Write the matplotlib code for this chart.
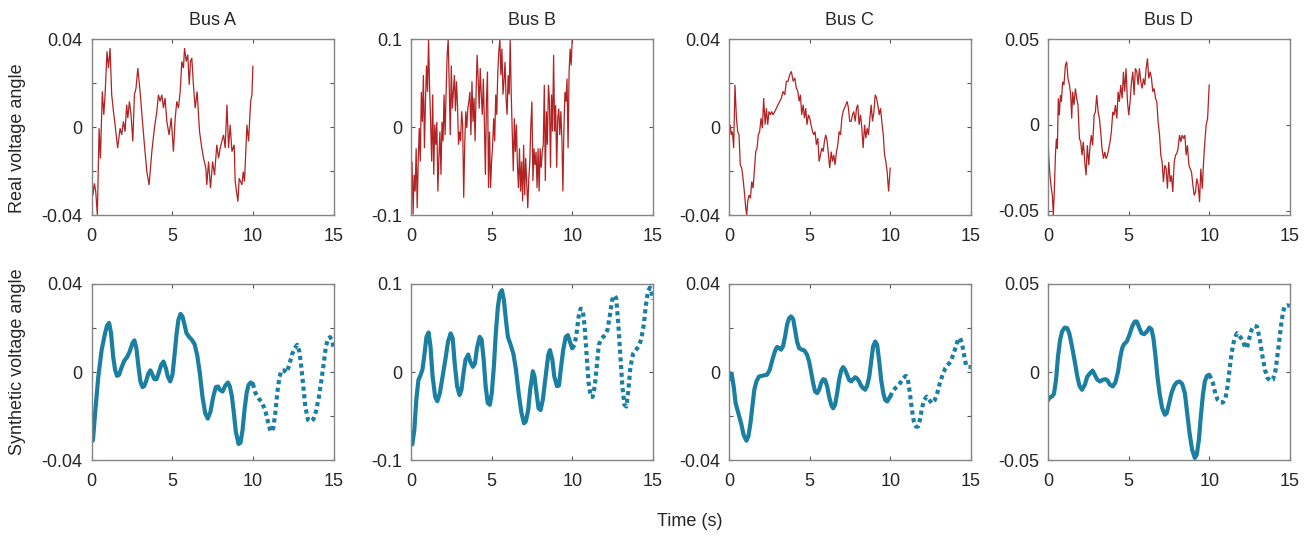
import numpy as np
import matplotlib
matplotlib.use('Agg')
import matplotlib.pyplot as plt

plt.rcParams['font.family'] = ['Liberation Sans', 'DejaVu Sans']

# ---------------- data ----------------
buses = ['Bus A', 'Bus B', 'Bus C', 'Bus D']
x_ticks = [0, 5, 10, 15]
split_time = 10.0

# Real voltage angle (measured), 0-10 s
A_real_t = [0.00,0.08,0.17,0.25,0.35,0.46,0.54,0.66,0.75,0.83,0.95,1.04,1.14,1.24,1.35,1.45,1.61,1.76,1.86,1.97,
            2.07,2.17,2.24,2.34,2.44,2.55,2.65,2.75,2.86,3.00,3.15,3.27,3.42,3.56,3.73,3.89,4.04,4.14,4.24,4.35,
            4.45,4.55,4.66,4.80,4.93,5.07,5.18,5.28,5.38,5.49,5.59,5.69,5.76,5.86,5.96,6.05,6.13,6.21,6.31,6.42,
            6.54,6.69,6.83,6.94,7.08,7.14,7.25,7.37,7.50,7.62,7.76,7.87,7.97,8.07,8.18,8.28,8.39,8.49,8.59,8.70,
            8.84,8.90,9.07,9.15,9.32,9.40,9.48,9.63,9.73,9.86,9.94,10.00]
A_real_v = [-0.0202,-0.0308,-0.0255,-0.0292,-0.0398,-0.0005,-0.0141,0.0162,0.0056,0.0147,0.0344,0.0268,0.0359,0.0147,0.0071,
            0.0011,-0.0095,-0.0005,-0.0035,0.0026,-0.0020,0.0102,0.0041,0.0117,0.0056,-0.0065,0.0147,0.0177,0.0268,0.0162,
            0.0026,-0.0080,-0.0202,-0.0262,-0.0111,-0.0005,0.0071,0.0147,0.0117,0.0147,0.0086,0.0132,0.0026,-0.0035,0.0041,
            -0.0111,0.0041,0.0117,0.0086,0.0162,0.0298,0.0268,0.0359,0.0298,0.0329,0.0192,0.0298,0.0314,0.0192,0.0086,
            0.0162,-0.0020,-0.0095,-0.0141,-0.0186,-0.0262,-0.0156,-0.0277,-0.0156,-0.0217,-0.0080,-0.0141,-0.0095,-0.0065,-0.0035,
            -0.0095,0.0102,-0.0095,0.0011,-0.0111,-0.0080,-0.0247,-0.0338,-0.0232,-0.0262,-0.0202,-0.0247,0.0011,-0.0065,0.0117,
            0.0147,0.0276]

B_real_v = [-0.080,-0.039,-0.099,-0.054,-0.073,-0.024,-0.092,-0.039,-0.001,-0.039,0.040,0.006,0.059,-0.024,0.029,0.070,
            0.040,0.100,0.044,0.006,-0.039,0.037,-0.054,0.003,-0.020,0.006,-0.073,-0.035,-0.005,-0.054,0.006,-0.016,
            0.037,-0.009,0.040,0.082,0.100,0.044,-0.009,0.070,0.021,0.040,0.059,0.018,0.052,0.025,-0.020,-0.005,
            -0.016,0.018,0.003,-0.080,-0.020,0.018,-0.001,0.021,0.029,0.040,-0.009,0.052,0.006,0.033,-0.016,0.040,
            0.082,0.055,0.021,0.067,0.037,0.014,0.055,0.006,-0.054,0.029,0.063,-0.069,-0.005,-0.069,-0.039,-0.020,
            0.010,-0.016,0.037,0.014,0.063,0.086,0.100,0.059,0.089,0.037,0.052,0.074,0.033,0.014,0.059,0.037,
            0.100,0.037,-0.005,-0.050,0.010,-0.028,0.003,-0.043,-0.069,-0.024,-0.073,-0.039,-0.084,-0.020,-0.077,-0.035,
            -0.065,-0.092,-0.058,-0.039,0.003,0.029,-0.061,-0.024,-0.043,-0.028,-0.069,-0.024,-0.073,-0.024,-0.046,-0.028,
            -0.020,0.048,-0.061,0.018,-0.020,0.048,0.029,-0.046,0.037,-0.005,0.082,-0.005,0.025,-0.046,0.010,0.021,
            -0.009,0.018,-0.012,-0.073,-0.001,0.040,0.029,0.055,-0.024,0.063,0.089,0.070,0.100]
B_real_t = np.linspace(0, 10, len(B_real_v))

C_real_t = [0.00,0.08,0.14,0.21,0.29,0.37,0.46,0.54,0.62,0.70,0.79,0.87,0.95,1.04,1.10,1.16,1.24,1.33,1.41,1.49,
            1.57,1.66,1.74,1.82,1.90,1.99,2.07,2.15,2.24,2.32,2.40,2.48,2.57,2.65,2.73,2.84,2.94,3.04,3.15,3.25,
            3.35,3.46,3.56,3.66,3.77,3.87,3.98,4.08,4.18,4.27,4.35,4.43,4.51,4.60,4.68,4.76,4.84,4.93,5.01,5.09,
            5.18,5.26,5.34,5.42,5.51,5.59,5.67,5.76,5.84,5.92,6.00,6.09,6.17,6.25,6.34,6.42,6.50,6.58,6.67,6.75,
            6.83,6.92,7.00,7.08,7.16,7.25,7.33,7.41,7.49,7.58,7.66,7.74,7.83,7.91,7.99,8.07,8.16,8.24,8.32,8.41,
            8.49,8.57,8.65,8.74,8.82,8.90,8.99,9.07,9.15,9.23,9.32,9.40,9.48,9.57,9.65,9.73,9.81,9.90,10.00]
C_real_v = [-0.0050,0.0011,-0.0035,-0.0020,-0.0095,0.0192,0.0041,-0.0020,-0.0035,-0.0171,
            -0.0186,-0.0232,-0.0292,-0.0368,-0.0398,-0.0338,-0.0308,-0.0323,-0.0247,-0.0277,
            -0.0201,-0.0111,-0.0095,-0.0035,-0.0020,0.0041,-0.0005,0.0132,0.0011,0.0086,
            0.0011,0.0071,0.0056,0.0071,0.0056,0.0071,0.0086,0.0102,0.0117,0.0132,
            0.0162,0.0147,0.0208,0.0208,0.0238,0.0253,0.0208,0.0223,0.0177,0.0162,
            0.0117,0.0147,0.0056,0.0102,0.0041,0.0086,0.0011,0.0056,0.0041,0.0011,
            -0.0020,-0.0035,-0.0020,-0.0080,-0.0050,-0.0156,-0.0126,-0.0095,-0.0111,-0.0065,
            -0.0035,-0.0065,-0.0126,-0.0186,-0.0111,-0.0156,-0.0126,-0.0171,-0.0111,-0.0080,
            -0.0020,-0.0035,0.0041,0.0071,0.0086,0.0102,0.0117,0.0086,0.0026,0.0026,
            0.0056,0.0071,0.0026,0.0086,0.0102,0.0011,0.0056,-0.0005,-0.0095,0.0011,
            -0.0050,-0.0005,-0.0035,0.0041,0.0102,0.0026,0.0071,0.0147,0.0132,0.0102,
            0.0056,0.0086,0.0026,-0.0035,-0.0126,-0.0156,-0.0201,-0.0292,-0.0186]

D_real_t = [0.00,0.04,0.12,0.21,0.27,0.33,0.39,0.46,0.52,0.58,0.64,0.70,0.77,0.83,0.91,0.99,1.08,1.16,1.24,1.33,
            1.41,1.47,1.53,1.61,1.70,1.78,1.86,1.95,2.03,2.11,2.19,2.28,2.36,2.44,2.53,2.61,2.69,2.77,2.86,2.94,
            3.02,3.11,3.19,3.27,3.35,3.44,3.52,3.60,3.69,3.77,3.85,3.93,4.02,4.10,4.18,4.27,4.35,4.43,4.51,4.60,
            4.68,4.76,4.84,4.93,5.01,5.09,5.18,5.26,5.34,5.42,5.51,5.59,5.67,5.76,5.84,5.92,6.00,6.09,6.17,6.25,
            6.34,6.42,6.50,6.58,6.67,6.75,6.83,6.92,7.00,7.08,7.16,7.25,7.33,7.41,7.49,7.58,7.66,7.74,7.83,7.91,
            7.99,8.07,8.16,8.24,8.32,8.41,8.49,8.57,8.65,8.74,8.82,8.90,8.99,9.07,9.15,9.23,9.32,9.40,9.48,9.57,
            9.65,9.73,9.81,9.90,10.00]
D_real_v = [-0.0060,-0.0177,-0.0294,-0.0372,-0.0411,-0.0527,-0.0391,-0.0177,-0.0080,-0.0138,
            0.0154,0.0056,0.0173,0.0134,0.0251,0.0232,0.0348,0.0368,0.0270,0.0232,
            0.0173,0.0037,0.0193,0.0115,0.0212,0.0154,0.0115,-0.0080,-0.0099,-0.0177,
            -0.0099,-0.0216,-0.0294,-0.0119,-0.0235,-0.0119,-0.0060,-0.0119,0.0056,0.0076,
            0.0173,0.0076,0.0037,-0.0041,-0.0138,-0.0197,-0.0158,-0.0197,-0.0177,-0.0138,
            -0.0099,-0.0041,0.0076,0.0056,0.0115,0.0037,0.0193,0.0134,0.0232,0.0154,
            0.0309,0.0193,0.0329,0.0134,0.0056,0.0134,0.0251,0.0309,0.0173,0.0329,
            0.0309,0.0232,0.0329,0.0251,0.0212,0.0270,0.0232,0.0329,0.0387,0.0270,
            0.0309,0.0270,0.0193,0.0212,0.0154,0.0134,0.0018,-0.0060,-0.0177,-0.0216,
            -0.0333,-0.0235,-0.0255,-0.0372,-0.0216,-0.0333,-0.0294,-0.0391,-0.0216,-0.0177,
            -0.0167,-0.0138,-0.0060,-0.0099,-0.0060,-0.0080,-0.0060,-0.0177,-0.0119,-0.0235,
            -0.0255,-0.0274,-0.0352,-0.0411,-0.0391,-0.0313,-0.0352,-0.0450,-0.0255,-0.0372,
            -0.0216,-0.0099,-0.0002,0.0037,0.0232]

# Synthetic voltage angle, 0-15 s (solid up to 10 s, dotted afterwards)
A_syn_t = [0.00,0.08,0.21,0.41,0.62,0.83,0.95,1.08,1.20,1.33,1.45,1.57,1.70,1.86,2.03,2.19,2.36,2.53,2.65,2.77,
           2.90,3.02,3.15,3.27,3.40,3.52,3.64,3.77,3.89,4.02,4.14,4.31,4.45,4.60,4.72,4.87,5.01,5.13,5.26,5.38,
           5.51,5.63,5.76,5.88,6.05,6.21,6.38,6.54,6.71,6.87,7.04,7.20,7.37,7.54,7.70,7.83,7.95,8.12,8.28,8.45,
           8.57,8.70,8.82,8.94,9.11,9.23,9.36,9.48,9.61,9.73,9.86,10.00,
           10.14,10.35,10.56,10.77,10.93,11.10,11.26,11.39,11.51,11.64,11.76,11.93,12.09,12.26,12.42,12.59,12.75,12.88,
           13.00,13.13,13.25,13.42,13.58,13.75,13.91,14.08,14.24,14.41,14.53,14.66,14.78,14.91,15.00]
A_syn_v = [-0.0315,-0.0308,-0.0186,-0.0020,0.0102,0.0177,0.0211,0.0223,0.0177,0.0071,0.0011,-0.0017,-0.0012,0.0023,0.0053,
           0.0067,0.0094,0.0132,0.0144,0.0109,0.0026,-0.0042,-0.0068,-0.0062,-0.0035,-0.0005,0.0008,-0.0012,-0.0032,-0.0032,
           -0.0008,0.0033,0.0048,0.0018,-0.0020,-0.0042,-0.0012,0.0071,0.0170,0.0238,0.0264,0.0253,0.0215,0.0177,0.0159,
           0.0147,0.0127,0.0079,-0.0005,-0.0111,-0.0186,-0.0211,-0.0179,-0.0111,-0.0068,-0.0065,-0.0080,-0.0088,-0.0062,-0.0047,
           -0.0065,-0.0111,-0.0186,-0.0270,-0.0326,-0.0320,-0.0262,-0.0171,-0.0095,-0.0058,-0.0047,-0.0053,
           -0.0092,-0.0118,-0.0138,-0.0174,-0.0224,-0.0270,-0.0255,-0.0186,-0.0095,-0.0027,0.0008,0.0008,-0.0002,0.0033,
           0.0079,0.0109,0.0124,0.0094,0.0026,-0.0065,-0.0156,-0.0217,-0.0224,-0.0214,-0.0179,-0.0118,-0.0042,0.0048,
           0.0117,0.0150,0.0159,0.0147,0.0109]

B_syn_t = [0.00,0.08,0.21,0.33,0.46,0.58,0.71,0.84,0.96,1.09,1.21,1.34,1.50,1.63,1.79,1.96,2.13,2.30,2.46,2.59,
           2.71,2.86,3.01,3.13,3.26,3.38,3.55,3.67,3.84,3.97,4.09,4.26,4.38,4.51,4.63,4.76,4.89,5.01,5.14,5.26,
           5.39,5.51,5.64,5.76,5.89,6.01,6.18,6.35,6.51,6.68,6.85,7.01,7.12,7.27,7.39,7.56,7.66,7.79,7.91,8.04,
           8.18,8.35,8.52,8.62,8.77,8.89,9.06,9.18,9.29,9.44,9.60,9.73,9.85,10.00,
           10.15,10.27,10.40,10.52,10.65,10.77,10.90,11.02,11.15,11.27,11.40,11.52,11.65,11.82,12.03,12.19,12.36,12.48,
           12.61,12.73,12.86,12.99,13.11,13.24,13.36,13.49,13.61,13.78,13.95,14.11,14.28,14.45,14.57,14.70,14.82,14.95,15.00]
B_syn_v = [-0.078,-0.082,-0.065,-0.031,-0.009,-0.004,0.003,0.021,0.040,0.045,0.029,-0.005,-0.028,-0.033,-0.024,
           -0.005,0.014,0.035,0.044,0.038,0.010,-0.016,-0.026,-0.020,-0.001,0.014,0.020,0.012,0.006,0.010,
           0.027,0.040,0.037,0.014,-0.016,-0.035,-0.037,-0.024,0.006,0.044,0.074,0.089,0.093,0.082,0.059,
           0.040,0.031,0.021,0.003,-0.024,-0.046,-0.058,-0.056,-0.043,-0.020,0.001,-0.005,-0.024,-0.041,-0.043,
           -0.031,-0.005,0.020,0.025,0.014,-0.005,-0.016,-0.015,0.003,0.025,0.040,0.042,0.035,0.027,
           0.031,0.044,0.063,0.072,0.071,0.052,0.018,-0.012,-0.028,-0.028,-0.016,0.006,0.031,0.038,0.042,
           0.048,0.067,0.082,0.087,0.084,0.055,0.018,-0.016,-0.037,-0.039,-0.020,0.006,0.021,0.025,0.029,
           0.037,0.055,0.076,0.091,0.096,0.089,0.082]

C_syn_t = [0.00,0.08,0.17,0.29,0.41,0.58,0.75,0.91,1.08,1.20,1.33,1.45,1.57,1.70,1.86,2.03,2.19,2.36,2.53,2.69,
           2.86,2.98,3.11,3.23,3.35,3.48,3.60,3.73,3.85,3.98,4.10,4.22,4.35,4.51,4.68,4.84,4.97,5.09,5.22,5.34,
           5.47,5.59,5.71,5.84,5.96,6.09,6.21,6.34,6.46,6.58,6.71,6.83,6.96,7.08,7.20,7.33,7.45,7.58,7.70,7.83,
           7.95,8.07,8.20,8.32,8.45,8.57,8.70,8.82,8.94,9.07,9.19,9.32,9.44,9.57,9.69,9.81,10.00,
           10.14,10.31,10.48,10.64,10.81,10.97,11.10,11.22,11.35,11.47,11.60,11.72,11.84,11.97,12.09,12.26,12.42,
           12.59,12.75,12.92,13.08,13.25,13.42,13.58,13.75,13.91,14.08,14.20,14.33,14.45,14.58,14.70,14.82,15.00]
C_syn_v = [-0.0035,-0.0005,-0.0009,-0.0065,-0.0141,-0.0186,-0.0232,-0.0285,-0.0311,-0.0292,-0.0232,-0.0156,-0.0080,-0.0042,-0.0020,
           -0.0017,-0.0014,-0.0012,0.0011,0.0056,0.0097,0.0114,0.0109,0.0102,0.0117,0.0162,0.0215,0.0245,0.0253,0.0241,
           0.0192,0.0139,0.0109,0.0102,0.0098,0.0079,0.0048,0.0003,-0.0050,-0.0088,-0.0095,-0.0080,-0.0050,-0.0032,-0.0035,
           -0.0065,-0.0111,-0.0148,-0.0164,-0.0148,-0.0095,-0.0035,0.0008,0.0023,0.0011,-0.0012,-0.0035,-0.0042,-0.0032,-0.0023,
           -0.0029,-0.0042,-0.0062,-0.0073,-0.0080,-0.0062,-0.0020,0.0048,0.0117,0.0139,0.0124,0.0048,-0.0035,-0.0095,-0.0126,
           -0.0133,-0.0111,
           -0.0088,-0.0073,-0.0062,-0.0047,-0.0027,-0.0017,-0.0035,-0.0095,-0.0171,-0.0224,-0.0247,-0.0247,-0.0217,-0.0164,-0.0129,
           -0.0111,-0.0126,-0.0141,-0.0129,-0.0095,-0.0050,-0.0012,0.0018,0.0033,0.0048,0.0079,0.0117,0.0147,0.0155,0.0132,
           0.0079,0.0033,0.0023,0.0023]

D_syn_t = [0.00,0.12,0.25,0.37,0.50,0.62,0.75,0.87,1.04,1.20,1.33,1.49,1.66,1.82,1.95,2.11,2.28,2.44,2.61,2.77,
           2.90,3.06,3.23,3.40,3.56,3.69,3.85,4.02,4.18,4.35,4.47,4.60,4.72,4.89,5.05,5.22,5.38,5.51,5.63,5.80,
           5.96,6.13,6.29,6.42,6.54,6.67,6.79,6.92,7.08,7.25,7.37,7.49,7.66,7.83,7.99,8.16,8.32,8.49,8.61,8.78,
           8.94,9.11,9.23,9.36,9.48,9.61,9.73,9.86,10.00,
           10.10,10.23,10.35,10.52,10.68,10.85,11.01,11.14,11.26,11.39,11.55,11.72,11.88,12.05,12.22,12.34,12.46,
           12.63,12.79,12.96,13.13,13.29,13.46,13.62,13.79,13.95,14.12,14.29,14.45,14.58,14.70,14.82,15.00]
D_syn_v = [-0.0160,-0.0142,-0.0138,-0.0123,-0.0043,0.0089,0.0183,0.0230,0.0253,0.0249,0.0217,0.0145,0.0060,-0.0025,-0.0077,
           -0.0100,-0.0072,-0.0025,-0.0006,0.0009,-0.0015,-0.0043,-0.0053,-0.0043,-0.0040,-0.0047,-0.0072,-0.0081,-0.0058,0.0004,
           0.0079,0.0136,0.0159,0.0174,0.0211,0.0259,0.0287,0.0287,0.0259,0.0221,0.0215,0.0230,0.0253,0.0243,0.0192,
           0.0089,-0.0025,-0.0119,-0.0204,-0.0242,-0.0232,-0.0185,-0.0119,-0.0077,-0.0058,-0.0053,-0.0066,-0.0119,-0.0213,-0.0345,
           -0.0440,-0.0487,-0.0468,-0.0383,-0.0251,-0.0128,-0.0053,-0.0021,-0.0015,
           -0.0034,-0.0062,-0.0109,-0.0157,-0.0172,-0.0172,-0.0147,-0.0081,0.0013,0.0108,0.0183,0.0221,0.0206,0.0183,0.0145,
           0.0136,0.0183,0.0240,0.0262,0.0259,0.0192,0.0098,0.0013,-0.0034,-0.0049,-0.0043,0.0013,0.0136,0.0259,0.0343,
           0.0376,0.0379,0.0376]

real_series = [(A_real_t, A_real_v), (B_real_t, B_real_v), (C_real_t, C_real_v), (D_real_t, D_real_v)]
syn_series = [(A_syn_t, A_syn_v), (B_syn_t, B_syn_v), (C_syn_t, C_syn_v), (D_syn_t, D_syn_v)]

top_ylims = [(-0.04, 0.04), (-0.1, 0.1), (-0.04, 0.04), (-0.0527, 0.05)]
bot_ylims = [(-0.04, 0.04), (-0.1, 0.1), (-0.04, 0.04), (-0.05, 0.05)]
y_ticks = [[-0.04, -0.02, 0, 0.02, 0.04], [-0.1, 0, 0.1], [-0.04, -0.02, 0, 0.02, 0.04], [-0.05, 0, 0.05]]
y_ticklabels = [['-0.04', '', '0', '', '0.04'], ['-0.1', '0', '0.1'],
                ['-0.04', '', '0', '', '0.04'], ['-0.05', '0', '0.05']]

# ---------------- style ----------------
W, H = 1315, 540
RED = '#B22222'
TEAL = '#1B7FA1'
TXT = '#262626'
SPINE = '#858585'
FS = 13

fig = plt.figure(figsize=(W / 100, H / 100), dpi=100)
col_left = [91.7, 411.0, 729.0, 1048.0]
col_width = 241.8
rows = [(39.0, 215.3), (284.0, 460.3)]


def make_ax(left, top, bottom):
    ax = fig.add_axes([left / W, 1 - bottom / H, col_width / W, (bottom - top) / H])
    for s in ax.spines.values():
        s.set_color(SPINE)
        s.set_linewidth(1.0)
    ax.tick_params(direction='in', top=True, right=True, length=3.2, width=0.8,
                   color='#555555', labelcolor=TXT, labelsize=FS)
    ax.tick_params(axis='y', pad=6.5)
    ax.tick_params(axis='x', pad=9)
    ax.set_xlim(0, 15)
    ax.set_xticks(x_ticks)
    ax.set_xticklabels([str(v) for v in x_ticks])
    return ax


for i in range(4):
    # top: real
    ax = make_ax(col_left[i], *rows[0])
    t, v = real_series[i]
    ax.plot(t, v, color=RED, lw=0.9, solid_joinstyle='miter')
    ax.set_ylim(*top_ylims[i])
    ax.set_yticks(y_ticks[i])
    ax.set_yticklabels(y_ticklabels[i])
    ax.set_title(buses[i], fontsize=FS, color=TXT, pad=10)

    # bottom: synthetic
    ax2 = make_ax(col_left[i], *rows[1])
    t, v = syn_series[i]
    t = np.asarray(t, float)
    v = np.asarray(v, float)
    m1 = t <= split_time
    m2 = t >= split_time
    ax2.plot(t[m1], v[m1], color=TEAL, lw=3.0, solid_capstyle='round', solid_joinstyle='round')
    ax2.plot(t[m2], v[m2], color=TEAL, lw=3.0, linestyle=(0, (1.0, 0.85)), dash_capstyle='butt')
    ax2.set_ylim(*bot_ylims[i])
    ax2.set_yticks(y_ticks[i])
    ax2.set_yticklabels(y_ticklabels[i])

fig.text(18 / W, 1 - 138 / H, 'Real voltage angle', rotation=90, ha='center', va='center',
         fontsize=FS, color=TXT)
fig.text(18 / W, 1 - 362 / H, 'Synthetic voltage angle', rotation=90, ha='center', va='center',
         fontsize=FS, color=TXT)
fig.text(690 / W, 1 - 522 / H, 'Time (s)', ha='center', va='center', fontsize=FS, color=TXT)

fig.savefig('out.png', dpi=100)
